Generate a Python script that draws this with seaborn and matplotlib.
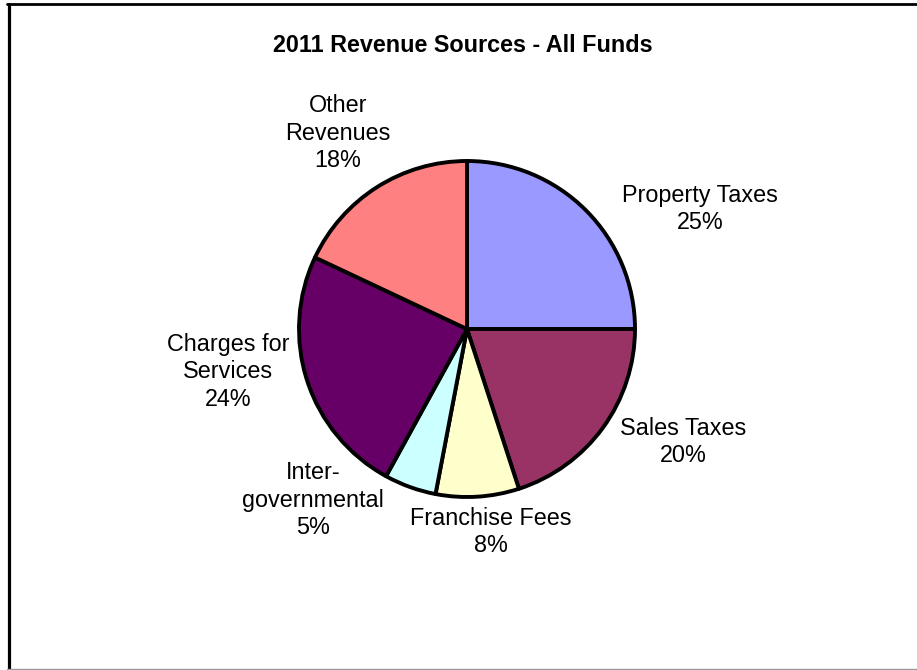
import matplotlib
matplotlib.use("Agg")
import matplotlib.pyplot as plt
from matplotlib.lines import Line2D
import seaborn as sns

# Revenue shares (percent), clockwise from 12 o'clock
categories = ["Property Taxes", "Sales Taxes", "Franchise Fees",
              "Inter-\ngovernmental", "Charges for\nServices", "Other\nRevenues"]
shares = [25, 20, 8, 5, 24, 18]
colors = ["#9999FF", "#993366", "#FFFFCC", "#CCFFFF", "#660066", "#FF8080"]
title = "2011 Revenue Sources - All Funds"

# label anchor points in pixel space (x, y from top)
label_pos = [(700, 209), (683, 442), (491, 532), (313, 500), (228, 372), (338, 133)]

sns.set_theme(style="white")
plt.rcParams["font.family"] = ["Liberation Sans", "DejaVu Sans"]

W, H = 917, 670
fig = plt.figure(figsize=(W / 100, H / 100), dpi=100)
ax = fig.add_axes([0, 0, 1, 1])

cx, cy, r = 467, 329, 168
ax.pie(shares, colors=colors, startangle=90, counterclock=False,
       center=(cx, H - cy), radius=r, frame=True,
       wedgeprops=dict(edgecolor="black", linewidth=2.8, joinstyle="round"))
ax.set_xlim(0, W)
ax.set_ylim(0, H)
ax.set_aspect("equal")
ax.set_axis_off()

for cat, val, (lx, ly) in zip(categories, shares, label_pos):
    ax.text(lx, H - ly, f"{cat}\n{val}%", ha="center", va="center",
            fontsize=16.8, color="black", linespacing=1.27)

fig.text(463 / W, 1 - 45 / H, title, ha="center", va="center",
         fontsize=16.8, fontweight="bold", color="black")

# outer chart frame
fig.add_artist(Line2D([8.5 / W, 8.5 / W], [0, 1 - 4 / H], transform=fig.transFigure,
                      color="black", linewidth=2.3))
fig.add_artist(Line2D([7 / W, 1], [1 - 4 / H, 1 - 4 / H], transform=fig.transFigure,
                      color="black", linewidth=2.0))
fig.add_artist(Line2D([7 / W, 1], [1.2 / H, 1.2 / H], transform=fig.transFigure,
                      color="#999999", linewidth=1.0))

fig.savefig("out.png", dpi=100, facecolor="white")
